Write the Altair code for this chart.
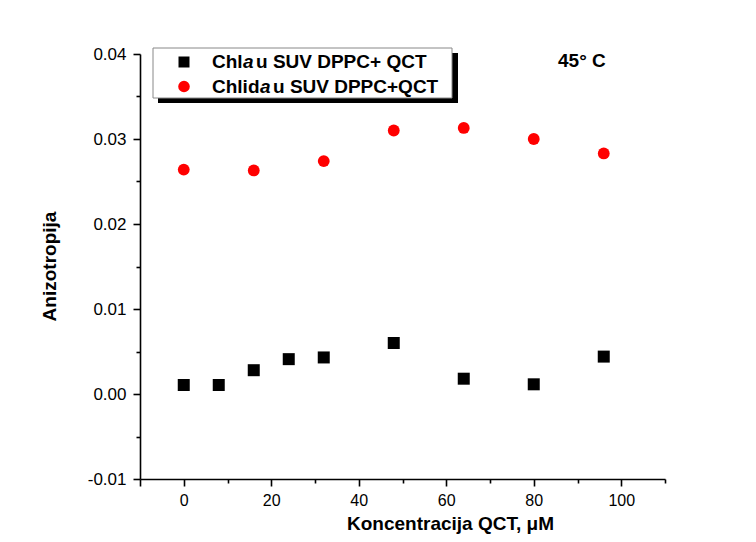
import altair as alt
import pandas as pd

# ---- data ----
series_names = ["Chla u SUV DPPC+ QCT", "Chlida u SUV DPPC+QCT"]
x_chla = [0, 8, 16, 24, 32, 48, 64, 80, 96]
y_chla = [0.00106, 0.00106, 0.0028, 0.0041, 0.0043, 0.0060, 0.0018, 0.00114, 0.0044]
x_chlida = [0, 16, 32, 48, 64, 80, 96]
y_chlida = [0.0264, 0.0263, 0.0274, 0.0310, 0.0313, 0.0300, 0.0283]
x_tick_values = [-10, 0, 10, 20, 30, 40, 50, 60, 70, 80, 90, 100, 110]
y_tick_values = [-0.01, -0.005, 0.0, 0.005, 0.01, 0.015, 0.02, 0.025, 0.03, 0.035, 0.04]

df = pd.DataFrame({
    "x": x_chla + x_chlida,
    "y": y_chla + y_chlida,
    "series": [series_names[0]] * len(x_chla) + [series_names[1]] * len(x_chlida),
})

FONT = "Liberation Sans"
W, H = 525, 425

x_major = "datum.value % 20 == 0 && datum.value >= 0 && datum.value <= 100"
y_major = "abs(round(datum.value * 1000)) % 10 == 0"

points = alt.Chart(df).mark_point(filled=True, opacity=1, strokeWidth=0).encode(
    x=alt.X("x:Q", scale=alt.Scale(domain=[-10, 110], nice=False, zero=False),
            axis=alt.Axis(values=x_tick_values, grid=False, domainColor="black", domainWidth=1.6,
                          tickColor="black", tickWidth=1.6,
                          tickSize={"condition": {"test": x_major + " || datum.value == -10", "value": 7}, "value": 4},
                          labelExpr=f"{x_major} ? datum.label : ''",
                          labelFont=FONT, labelFontSize=16, labelColor="black", labelPadding=6,
                          title="Koncentracija QCT, μM", titleFont=FONT, titleFontSize=19,
                          titleFontWeight="bold", titleColor="black",
                          titleX=310, titleY=50, titleBaseline="alphabetic", titleAlign="center")),
    y=alt.Y("y:Q", scale=alt.Scale(domain=[-0.01, 0.04], nice=False, zero=False),
            axis=alt.Axis(values=y_tick_values, grid=False, domainColor="black", domainWidth=1.6,
                          tickColor="black", tickWidth=1.6,
                          tickSize={"condition": {"test": y_major, "value": 7}, "value": 4},
                          format=".2f",
                          labelExpr=f"{y_major} ? replace(datum.label, '\u2212', '-') : ''",
                          labelFont=FONT, labelFontSize=17, labelColor="black", labelPadding=7,
                          title="Anizotropija", titleFont=FONT, titleFontSize=19,
                          titleFontWeight="bold", titleColor="black", titleAngle=270,
                          titleX=-85, titleY=212, titleBaseline="alphabetic", titleAlign="center")),
    color=alt.Color("series:N", scale=alt.Scale(domain=series_names, range=["#000000", "#ff0000"]), legend=None),
    shape=alt.Shape("series:N", scale=alt.Scale(domain=series_names, range=["square", "circle"]), legend=None),
    size=alt.Size("series:N", scale=alt.Scale(domain=series_names, range=[144, 140]), legend=None),
)

one = pd.DataFrame({"k": [0]})

shadow = alt.Chart(one).mark_rect(color="black").encode(
    x=alt.value(18), x2=alt.value(318), y=alt.value(-1), y2=alt.value(49))
box = alt.Chart(one).mark_rect(fill="white", stroke="#888888", strokeWidth=1).encode(
    x=alt.value(13), x2=alt.value(312), y=alt.value(-6), y2=alt.value(44))
sym_a = alt.Chart(one).mark_point(shape="square", filled=True, color="black", size=121, opacity=1).encode(
    x=alt.value(44), y=alt.value(8))
sym_b = alt.Chart(one).mark_point(shape="circle", filled=True, color="#ff0000", size=135, opacity=1).encode(
    x=alt.value(44), y=alt.value(32.5))


def seg(txt, x, y, italic=False, size=19):
    return alt.Chart(one).mark_text(
        text=txt, font=FONT, fontSize=size, fontWeight="bold",
        fontStyle="italic" if italic else "normal",
        align="left", baseline="alphabetic", color="black",
    ).encode(x=alt.value(x), y=alt.value(y))


legend_text = [
    seg("Chl", 72, 14), seg("a", 103, 14, True), seg("u SUV DPPC+ QCT", 116, 14),
    seg("Chlid", 72, 39), seg("a", 120, 39, True), seg("u SUV DPPC+QCT", 133, 39),
]
temp = seg("45° C", 418, 13)

chart = alt.layer(points, shadow, box, sym_a, sym_b, *legend_text, temp).properties(
    width=W, height=H,
    autosize=alt.AutoSizeParams(type="none"),
    padding={"left": 132, "top": 46, "right": 83, "bottom": 55},
    background="white",
).configure_view(stroke=None)

chart.save("out.html", embed_options={"renderer": "svg", "actions": False})
